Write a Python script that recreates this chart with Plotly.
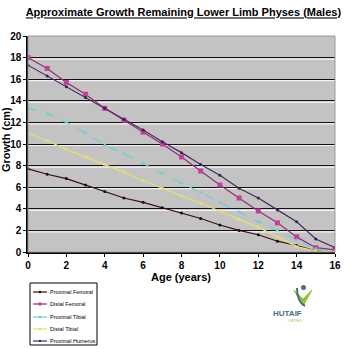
import plotly.graph_objects as go

# Remaining growth (cm) by age for each physis, boys
ages = list(range(0, 17))
proximal_femoral = [7.7, 7.2, 6.8, 6.2, 5.6, 5.0, 4.6, 4.1, 3.6, 3.1, 2.5, 2.0, 1.6, 1.0, 0.6, 0.1, 0.0]
distal_femoral = [18.0, 17.0, 15.7, 14.6, 13.3, 12.2, 11.1, 10.0, 8.8, 7.5, 6.2, 5.0, 3.8, 2.7, 1.4, 0.4, 0.2]
proximal_tibial = [13.3, 12.8, 12.0, 11.0, 9.9, 9.1, 8.2, 7.3, 6.4, 5.5, 4.6, 3.7, 2.8, 2.0, 1.1, 0.3, 0.0]
distal_tibial = [11.0, 10.3, 9.5, 8.8, 8.1, 7.4, 6.6, 5.9, 5.2, 4.5, 3.8, 3.0, 2.3, 1.4, 0.5, 0.1, 0.0]
proximal_humerus = [17.3, 16.3, 15.3, 14.3, 13.3, 12.3, 11.3, 10.2, 9.2, 8.1, 7.1, 5.9, 5.0, 3.9, 2.8, 1.2, 0.4]

x_ticks = [0, 2, 4, 6, 8, 10, 12, 14, 16]
y_ticks = [0, 2, 4, 6, 8, 10, 12, 14, 16, 18, 20]

series = [
    ("Proximal Femoral", proximal_femoral, "#3a0a1e", "#111111", "circle", 3, "solid"),
    ("Distal Femoral", distal_femoral, "#8e2f78", "#c0409a", "square", 5, "solid"),
    ("Proximal Tibial", proximal_tibial, "#6ccfd8", "#6ccfd8", "triangle-up", 4, "dash"),
    ("Distal Tibial", distal_tibial, "#e6e070", "#e6e070", "x", 3, "solid"),
    ("Proximal Humerus", proximal_humerus, "#4a2a5e", "#3a2050", "circle", 3, "solid"),
]

W, H = 346, 349
ML, MR, MT, MB = 28, 11, 36, 97
PW, PH = W - ML - MR, H - MT - MB


def px(x):
    return (x - ML) / PW


def py(y):
    return (H - MB - y) / PH


fig = go.Figure()
for name, vals, lc, mc, sym, ms, dash in series:
    fig.add_trace(go.Scatter(
        x=ages, y=vals, name=name, mode="lines+markers",
        line=dict(color=lc, width=1.2, dash=dash),
        marker=dict(color=mc, symbol=sym, size=ms),
        showlegend=False,
    ))

# white highlight under each dark gridline
for v in y_ticks[1:-1]:
    fig.add_shape(type="line", xref="paper", yref="y", x0=0, x1=1, y0=v - 0.14, y1=v - 0.14,
                  line=dict(color="#f2f2f2", width=1.2), layer="below")

tick_font = dict(size=10, family="Liberation Sans, Arial", weight="bold", color="black")

fig.update_layout(
    width=W, height=H,
    margin=dict(l=ML, r=MR, t=MT, b=MB, autoexpand=False),
    paper_bgcolor="white", plot_bgcolor="#c3c3c3",
    font=dict(family="Liberation Sans, Arial, sans-serif", color="black"),
    title=dict(text="<u><b>Approximate Growth Remaining Lower Limb Physes (Males)</b></u>",
               x=0.53, xanchor="center", y=0.975, yanchor="top",
               font=dict(size=11, color="black")),
    xaxis=dict(range=[0, 16], tickvals=x_ticks, showgrid=False, zeroline=False,
               showline=True, linecolor="black", linewidth=1.5, ticks="outside",
               ticklen=3, tickcolor="black", automargin=False, tickfont=tick_font),
    yaxis=dict(range=[0, 20], tickvals=y_ticks, showgrid=True, gridcolor="#111111",
               gridwidth=1.4, zeroline=False, showline=True, linecolor="black",
               linewidth=1.5, ticks="outside", ticklen=3, tickcolor="black", automargin=False,
               tickfont=tick_font),
    showlegend=False,
)

# axis titles
fig.add_annotation(text="<b>Age (years)</b>", xref="paper", yref="paper",
                   x=px(181), y=py(277), xanchor="center", yanchor="middle",
                   showarrow=False, font=dict(size=11, color="black"))
fig.add_annotation(text="<b>Growth (cm)</b>", xref="paper", yref="paper",
                   x=px(6), y=py(140), xanchor="center", yanchor="middle", textangle=-90,
                   showarrow=False, font=dict(size=11, color="black"))

# frame around the plot area
fig.add_shape(type="rect", xref="paper", yref="paper", x0=0, x1=1, y0=0, y1=1,
              line=dict(color="#9a9a9a", width=1))

# legend box drawn below the chart
fig.add_shape(type="rect", xref="paper", yref="paper",
              x0=px(30), x1=px(97), y0=py(345), y1=py(283),
              fillcolor="white", line=dict(color="black", width=1))
row_y = [292, 304, 317, 329, 341]
for (name, vals, lc, mc, sym, ms, dash), ry in zip(series, row_y):
    fig.add_shape(type="line", xref="paper", yref="paper",
                  x0=px(33), x1=px(47), y0=py(ry), y1=py(ry),
                  line=dict(color=lc, width=1.2))
    if sym == "square":
        fig.add_shape(type="rect", xref="paper", yref="paper",
                      x0=px(38.5), x1=px(41.5), y0=py(ry + 1.5), y1=py(ry - 1.5),
                      fillcolor=mc, line=dict(width=0))
    else:
        fig.add_shape(type="circle", xref="paper", yref="paper",
                      x0=px(38.8), x1=px(41.2), y0=py(ry + 1.2), y1=py(ry - 1.2),
                      fillcolor=mc, line=dict(width=0))
    fig.add_annotation(text=name, xref="paper", yref="paper", x=px(48), y=py(ry),
                       xanchor="left", yanchor="middle", showarrow=False,
                       font=dict(size=5.5, color="black"))

# HUTAIF ORTHO mark
fig.add_shape(type="path", xref="paper", yref="paper",
              path=f"M {px(294)} {py(290)} L {px(303)} {py(306)} L {px(312)} {py(290)} "
                   f"L {px(303)} {py(299)} Z",
              fillcolor="#8cc63f", line=dict(color="#8cc63f", width=1))
fig.add_shape(type="path", xref="paper", yref="paper",
              path=f"M {px(297)} {py(288)} Q {px(297)} {py(302)} {px(305)} {py(306)}",
              line=dict(color="#4a6d8c", width=2))
fig.add_shape(type="circle", xref="paper", yref="paper",
              x0=px(301), x1=px(306), y0=py(290), y1=py(285),
              fillcolor="#4a6d8c", line=dict(width=0))
fig.add_annotation(text="<b>HUTAIF</b>", xref="paper", yref="paper", x=px(304), y=py(313),
                   yanchor="middle", showarrow=False, font=dict(size=8, color="#4a6d8c"))
fig.add_annotation(text="ORTHO", xref="paper", yref="paper", x=px(304), y=py(320),
                   yanchor="middle", showarrow=False, font=dict(size=4, color="#8cc63f"))

fig.write_html("out.html")
